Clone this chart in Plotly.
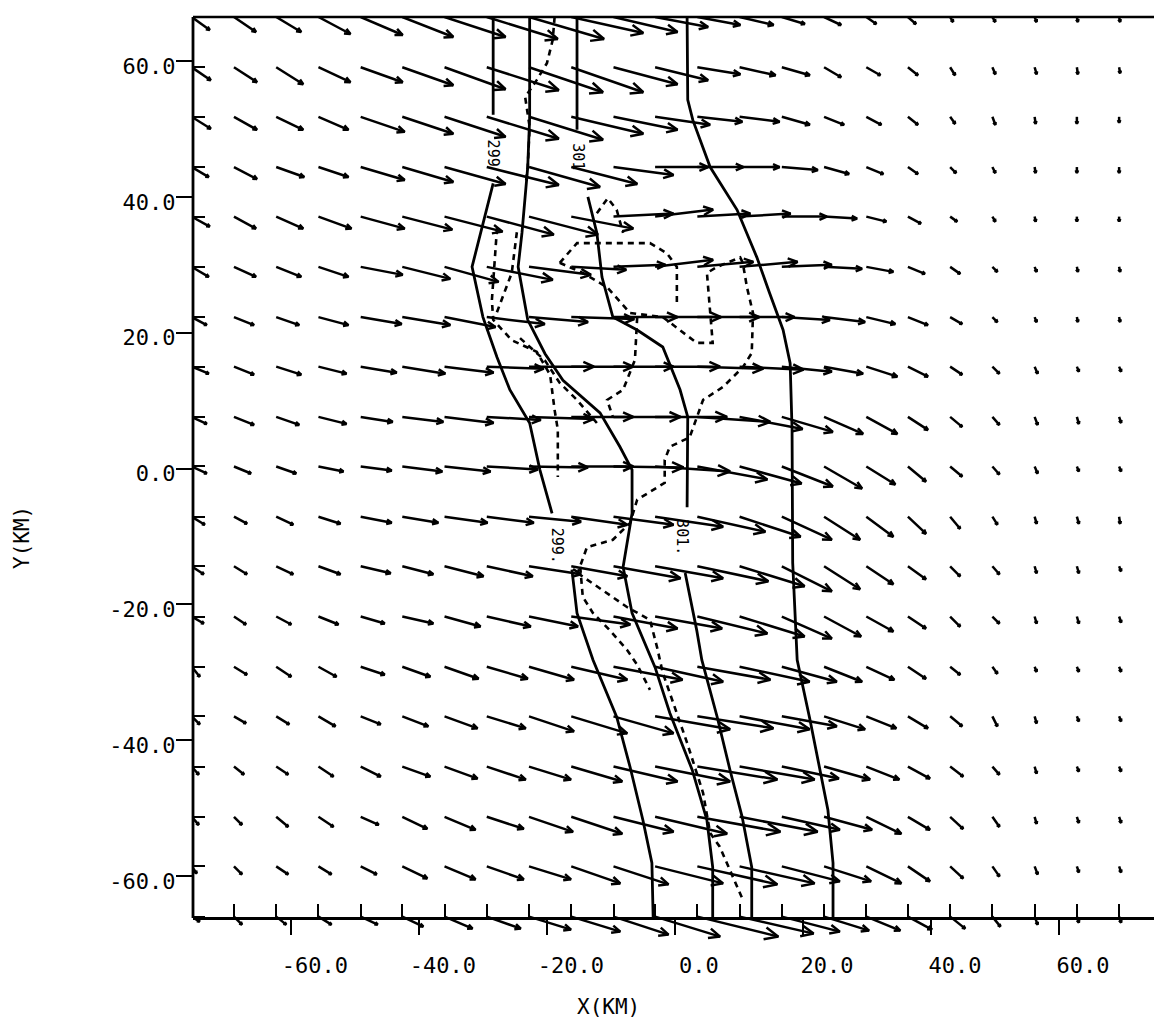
import math
import plotly.graph_objects as go

# ---------------- grid (km) ----------------
X_GRID = [-75.5, -68.9, -62.3, -55.7, -49.1, -42.6, -36.0, -29.4, -22.8, -16.2, -9.6, -3.1,
          3.5, 10.1, 16.7, 23.3, 29.9, 36.4, 43.0, 49.6, 56.2, 62.8, 69.4]
Y_GRID = [66.5, 59.1, 51.8, 44.4, 37.1, 29.7, 22.3, 15.0, 7.6, 0.3, -7.1, -14.4, -21.8,
          -29.2, -36.5, -43.9, -51.3, -58.6, -66.0]

# ---------------- wind components (m/s), rows north -> south ----------------
U = [
    [3.6, 4.4, 5.0, 6.4, 8.4, 10.2, 12.2, 14.2, 15.0, 14.4, 12.8, 10.6, 8.6, 6.8, 4.6, 3.4, 2.0, 1.6, 0.6, 0.6, 0.4, 0.2, 0.2],
    [3.8, 4.6, 5.4, 6.4, 8.4, 10.2, 12.2, 14.4, 14.8, 14.4, 12.8, 10.6, 8.6, 7.2, 5.6, 3.4, 2.8, 2.0, 1.0, 0.6, 0.4, 0.2, 0.2],
    [3.8, 4.6, 5.4, 6.0, 8.8, 10.2, 12.2, 14.4, 14.8, 14.4, 12.8, 11.0, 9.0, 8.0, 5.6, 4.0, 3.0, 2.0, 1.0, 0.6, 0.2, 0.0, 0.0],
    [3.4, 4.6, 5.6, 6.0, 8.8, 10.2, 12.2, 14.4, 14.2, 13.2, 12.0, 10.6, 9.2, 8.0, 7.2, 5.0, 3.4, 2.0, 1.2, 0.6, 0.2, 0.0, 0.0],
    [3.6, 4.4, 5.4, 6.6, 8.8, 10.0, 11.6, 13.4, 13.8, 12.4, 12.0, 11.6, 10.6, 10.2, 9.0, 6.6, 4.0, 2.6, 1.4, 0.6, 0.2, 0.0, 0.0],
    [3.4, 4.4, 5.0, 6.0, 8.4, 9.6, 10.8, 13.2, 12.4, 11.0, 10.4, 11.6, 11.2, 11.6, 10.0, 7.6, 5.4, 3.4, 2.0, 1.0, 0.4, 0.2, 0.2],
    [3.0, 4.0, 4.6, 6.0, 8.2, 9.6, 10.2, 11.6, 11.8, 12.6, 12.8, 13.2, 12.4, 11.0, 9.6, 8.2, 5.8, 4.0, 2.4, 1.0, 0.4, 0.2, 0.2],
    [3.4, 4.0, 5.0, 5.6, 7.2, 8.6, 9.8, 11.4, 13.0, 12.4, 12.0, 13.0, 13.2, 12.8, 10.0, 7.8, 6.2, 4.0, 2.4, 1.4, 0.6, 0.4, 0.4],
    [3.0, 4.0, 4.6, 5.6, 6.4, 8.2, 9.8, 10.8, 13.0, 12.4, 13.4, 14.4, 14.6, 12.6, 10.2, 7.8, 6.2, 4.0, 2.4, 1.4, 0.6, 0.4, 0.4],
    [3.0, 3.4, 4.0, 5.0, 6.2, 8.0, 9.2, 10.2, 11.8, 12.4, 14.0, 15.0, 14.0, 12.4, 10.2, 7.6, 5.8, 3.6, 2.4, 1.4, 0.6, 0.4, 0.4],
    [2.6, 2.6, 3.4, 4.4, 6.2, 7.2, 8.6, 9.4, 10.4, 11.2, 12.0, 13.6, 13.6, 12.2, 10.0, 7.2, 5.4, 3.6, 2.0, 1.0, 0.4, 0.4, 0.2],
    [2.4, 2.6, 3.4, 4.4, 6.0, 6.2, 7.8, 9.2, 10.4, 11.2, 13.4, 13.6, 14.2, 13.0, 10.0, 7.2, 5.4, 3.6, 2.0, 1.4, 0.4, 0.4, 0.4],
    [2.4, 2.4, 3.0, 4.0, 4.8, 6.2, 7.2, 8.8, 9.8, 11.8, 12.8, 13.4, 14.0, 13.0, 10.0, 7.4, 5.4, 3.6, 2.0, 1.4, 0.4, 0.4, 0.4],
    [1.6, 2.6, 3.0, 3.6, 4.8, 5.6, 6.8, 8.2, 9.0, 11.2, 13.8, 13.6, 14.6, 14.0, 11.0, 7.6, 5.6, 3.6, 2.0, 1.0, 0.4, 0.4, 0.4],
    [1.6, 2.4, 2.6, 3.4, 4.0, 5.2, 6.6, 7.8, 9.0, 11.2, 12.0, 15.0, 15.2, 14.0, 11.0, 8.2, 6.0, 4.0, 2.4, 1.0, 0.4, 0.4, 0.4],
    [1.4, 2.0, 2.4, 3.0, 4.0, 5.6, 6.6, 7.8, 8.4, 10.2, 12.8, 15.0, 16.0, 15.0, 11.4, 9.2, 6.6, 4.4, 2.6, 1.4, 0.4, 0.4, 0.4],
    [1.4, 1.6, 2.4, 3.0, 3.6, 5.0, 6.2, 7.4, 8.8, 10.2, 12.0, 14.4, 16.6, 15.6, 11.6, 9.6, 7.0, 4.4, 2.6, 1.4, 0.4, 0.4, 0.4],
    [1.0, 1.6, 2.4, 2.6, 3.2, 5.0, 6.2, 7.4, 8.4, 9.8, 11.0, 13.6, 16.0, 15.0, 11.6, 9.4, 7.0, 4.4, 2.6, 1.4, 0.6, 0.4, 0.4],
    [1.6, 1.6, 2.0, 2.6, 3.4, 4.2, 5.6, 6.8, 8.4, 9.8, 11.0, 13.0, 16.2, 14.8, 11.6, 9.0, 6.8, 4.8, 3.0, 1.6, 0.6, 0.4, 0.4],
]
V = [
    [-2.6, -3.0, -3.0, -3.4, -3.6, -4.0, -4.0, -4.4, -4.4, -3.2, -3.0, -2.0, -1.6, -1.6, -1.4, -1.6, -1.4, -1.4, -1.0, -1.0, -1.0, -1.0, -1.0],
    [-2.6, -3.0, -3.4, -3.0, -3.0, -3.6, -4.4, -4.6, -5.0, -5.0, -3.4, -2.6, -1.4, -1.6, -1.6, -2.0, -1.6, -1.6, -1.6, -1.4, -1.4, -1.4, -1.2],
    [-2.4, -2.6, -2.6, -2.6, -3.0, -3.4, -4.0, -4.4, -4.6, -3.4, -2.6, -1.6, -1.0, -1.0, -1.6, -1.6, -1.6, -1.6, -1.4, -1.6, -1.4, -1.4, -1.2],
    [-2.0, -2.4, -2.0, -2.0, -2.6, -3.0, -3.4, -3.6, -4.0, -3.4, -1.6, 0.0, 0.0, 0.0, -0.6, -1.4, -1.4, -1.4, -1.2, -1.2, -1.2, -1.2, -1.2],
    [-2.0, -2.4, -2.4, -2.4, -2.4, -2.6, -3.0, -3.6, -3.6, -2.4, 0.6, 1.4, 0.6, 0.6, 0.0, -0.4, -1.0, -1.4, -1.0, -1.0, -1.0, -1.0, -1.0],
    [-2.0, -2.0, -2.0, -2.0, -1.6, -2.4, -3.0, -2.6, -1.6, -0.6, 0.4, 1.4, 1.0, 1.0, 0.4, -0.4, -1.0, -1.4, -1.4, -1.0, -1.0, -1.0, -1.0],
    [-1.6, -1.6, -1.6, -1.6, -1.4, -1.6, -2.0, -1.4, -1.0, -0.4, 0.0, 0.0, 0.0, 0.0, -0.6, -1.0, -1.4, -1.6, -1.4, -1.0, -1.0, -1.0, -1.0],
    [-1.4, -1.6, -1.6, -1.4, -1.2, -1.4, -1.2, -0.4, 0.0, 0.0, 0.0, 0.0, -0.4, -0.6, -1.0, -1.4, -2.0, -2.0, -1.6, -1.4, -1.4, -1.0, -1.0],
    [-1.4, -1.6, -1.6, -1.4, -1.0, -1.0, -1.2, -0.6, -0.4, 0.0, 0.0, 0.0, -1.0, -2.4, -3.0, -3.4, -3.4, -2.6, -2.0, -1.6, -1.6, -1.4, -1.2],
    [-1.4, -1.4, -1.4, -1.0, -0.8, -1.0, -1.0, -0.6, -0.2, 0.0, -0.2, -1.0, -2.6, -3.4, -4.0, -4.4, -3.6, -3.0, -2.0, -1.6, -1.4, -1.0, -1.0],
    [-1.6, -1.4, -1.6, -1.4, -1.2, -1.2, -1.2, -1.2, -1.0, -1.6, -1.6, -2.0, -3.0, -4.0, -4.6, -4.6, -4.0, -3.4, -2.4, -1.6, -1.4, -1.4, -1.4],
    [-1.6, -1.6, -1.6, -1.6, -1.4, -1.6, -2.0, -2.0, -1.6, -2.0, -2.4, -2.4, -3.0, -4.0, -5.0, -4.6, -3.6, -2.6, -2.0, -1.6, -1.4, -1.4, -1.0],
    [-1.4, -1.6, -1.6, -1.6, -1.4, -1.4, -2.0, -2.0, -2.0, -1.6, -2.4, -2.4, -3.4, -4.0, -4.4, -4.0, -3.0, -2.4, -2.0, -1.4, -1.4, -1.4, -1.2],
    [-2.0, -1.6, -2.0, -2.0, -1.6, -2.0, -2.4, -2.4, -2.6, -2.6, -2.6, -3.0, -2.6, -3.0, -3.0, -3.0, -2.6, -2.4, -1.6, -1.4, -1.0, -1.0, -1.0],
    [-1.6, -1.4, -1.6, -2.0, -1.6, -2.0, -2.4, -2.4, -3.0, -3.4, -3.4, -2.6, -2.4, -2.6, -2.0, -2.6, -2.4, -2.4, -2.0, -2.0, -1.4, -1.0, -1.0],
    [-1.6, -1.6, -1.6, -2.0, -2.0, -2.0, -2.4, -2.6, -2.6, -3.0, -3.0, -3.0, -2.6, -2.6, -2.4, -2.6, -2.6, -2.4, -2.0, -1.6, -1.4, -1.0, -1.0],
    [-1.6, -1.6, -2.0, -2.0, -1.6, -2.4, -2.6, -2.4, -3.0, -3.4, -3.0, -3.4, -3.0, -3.0, -2.6, -2.6, -3.4, -2.6, -2.4, -2.0, -1.4, -1.2, -1.2],
    [-1.4, -1.6, -1.6, -1.6, -1.6, -2.4, -2.6, -2.6, -2.6, -3.4, -3.6, -3.4, -3.6, -3.4, -3.0, -3.0, -3.4, -3.0, -2.4, -2.0, -1.6, -1.2, -1.2],
    [-1.0, -1.6, -1.6, -1.6, -1.6, -2.0, -2.4, -2.4, -2.6, -3.0, -3.6, -4.0, -4.0, -3.4, -3.0, -2.8, -2.8, -2.6, -2.4, -2.0, -1.6, -1.2, -1.2],
]

# ---------------- isentrope / contour polylines (km) ----------------
# solid contours
A1_X = [-28.4, -28.4]
A1_Y = [66.5, 52.1]
A2_X = [-28.4, -31.7, -30.0, -27.8, -25.8, -22.7, -21.1, -19.2]
A2_Y = [42.0, 29.7, 22.3, 16.4, 11.6, 6.7, -0.2, -6.6]
A3_X = [-16.1, -15.3, -12.8, -9.1, -7.0, -5.0, -3.6, -3.4]
A3_Y = [-14.9, -21.3, -28.2, -36.6, -44.0, -51.8, -58.1, -66.2]
B_X = [-22.7, -22.7, -23.0, -23.9, -24.5, -23.0, -20.3, -17.5, -11.7, -8.6, -6.7, -6.7, -8.1,
       -6.7, -3.1, -0.8, 2.7, 5.0, 5.9, 5.9]
B_Y = [66.5, 51.7, 44.4, 34.7, 29.7, 21.9, 16.9, 13.0, 8.2, 3.2, -0.2, -6.6, -14.5,
       -21.3, -29.3, -36.0, -44.4, -51.8, -58.7, -66.2]
C1_X = [-15.3, -15.3]
C1_Y = [66.5, 49.9]
C2_X = [-13.6, -12.2, -11.4, -9.7, -5.9, -1.9, 0.8, 2.0, 1.9]
C2_Y = [40.0, 34.7, 28.2, 22.3, 20.4, 17.9, 11.6, 7.6, -5.7]
C3_X = [1.6, 3.4, 4.2, 6.6, 8.6, 10.5, 12.0, 12.0]
C3_Y = [-15.4, -23.8, -28.2, -36.6, -44.4, -51.3, -58.7, -66.2]
D_X = [1.9, 2.0, 2.8, 5.5, 9.7, 12.8, 14.8, 16.9, 18.0, 18.3, 18.4, 19.1, 21.1, 23.9, 24.7, 24.7]
D_Y = [66.5, 54.3, 51.3, 44.4, 38.1, 31.1, 25.8, 20.4, 15.5, 5.7, -13.9, -28.2, -37.0, -50.3, -58.1, -66.2]

# dashed contours
E_X = [-18.8, -19.1, -20.0, -21.6, -23.4, -23.0, -22.7, -23.0, -23.3]
E_Y = [66.5, 63.1, 59.7, 57.2, 54.7, 51.7, 50.3, 44.4, 42.0]
H1_X = [-27.8, -28.6, -28.4, -25.5, -21.6, -19.5, -18.8, -18.3, -18.3]
H1_Y = [35.4, 24.8, 21.9, 18.9, 17.2, 13.8, 8.6, 5.7, -1.25]
H2_X = [-24.7, -25.5, -28.1]
H2_Y = [34.8, 28.8, 22.3]
H3_X = [-24.2, -20.3, -18.0, -15.3, -12.2]
H3_Y = [19.2, 15.9, 12.6, 10.1, 6.7]
G1_X = [-12.2, -10.5, -9.1, -8.1]
G1_Y = [37.6, 39.8, 38.1, 34.7]
G2_X = [-18.0, -15.3, -3.9, -1.25, 0.3, 0.3]
G2_Y = [30.3, 33.2, 33.2, 31.7, 29.7, 23.8]
G3_X = [-18.0, -14.4, -10.6, -7.0, -1.9, 1.25, 3.4, 5.9, 5.5, 5.0, 6.6, 10.2, 10.6, 11.25, 12.2,
        12.0, 10.6, 7.5, 4.4, 2.3, -0.8, -1.6, -1.6, -5.9, -7.0, -9.7, -13.75, -14.8, -15.2]
G3_Y = [30.3, 28.8, 26.7, 22.9, 22.3, 20.0, 18.5, 18.5, 22.9, 28.8, 29.7, 31.1, 30.3, 26.7, 22.9,
        17.0, 14.9, 12.0, 10.1, 4.6, 3.2, 1.25, -2.1, -4.6, -8.0, -10.5, -11.6, -14.5, -15.4]
G5_X = [-5.9, -6.25, -8.1, -10.6, -9.7]
G5_Y = [22.3, 16.0, 11.6, 10.1, 7.6]
L1_X = [-14.8, -14.4, -12.8, -10.2, -7.5, -5.9, -3.9]
L1_Y = [-14.5, -18.9, -21.3, -23.8, -26.7, -28.9, -32.6]
L2_X = [-15.2, -7.5, -3.9, -2.8, -1.9, -0.3, 1.9, 4.4, 5.5, 7.0, 10.6]
L2_Y = [-15.4, -20.4, -22.3, -26.3, -30.1, -34.5, -40.4, -47.8, -53.7, -55.7, -63.5]

SOLID_LINES = [(A1_X, A1_Y), (A2_X, A2_Y), (A3_X, A3_Y), (B_X, B_Y), (C1_X, C1_Y),
               (C2_X, C2_Y), (C3_X, C3_Y), (D_X, D_Y)]
DASHED_LINES = [(E_X, E_Y), (H1_X, H1_Y), (H2_X, H2_Y), (H3_X, H3_Y), (G1_X, G1_Y),
                (G2_X, G2_Y), (G3_X, G3_Y), (G5_X, G5_Y), (L1_X, L1_Y), (L2_X, L2_Y)]

LABEL_TEXT = ["299", "301", "299.", "301."]
LABEL_X = [-28.4, -15.2, -18.4, 1.1]
LABEL_Y = [46.5, 45.9, -11.4, -10.1]

X_TICKS = [-60, -40, -20, 0, 20, 40, 60]
X_TICK_TEXT = ["-60.0", "-40.0", "-20.0", "0.0", "20.0", "40.0", "60.0"]
Y_TICKS = [60, 40, 20, 0, -20, -40, -60]
Y_TICK_TEXT = ["60.0", "40.0", "20.0", "0.0", "-20.0", "-40.0", "-60.0"]

# ---------------- layout geometry ----------------
W, H = 1154, 1020
M_L, M_R, M_T, M_B = 193, 0, 17, 75
X_RANGE = [-75.3, 74.85]
Y_RANGE = [-70.18, 66.5]
Y_AXIS_LEVEL = -66.2
PLOT_W = W - M_L - M_R
PLOT_H = H - M_T - M_B
PX_PER_KM_X = PLOT_W / (X_RANGE[1] - X_RANGE[0])
PX_PER_KM_Y = PLOT_H / (Y_RANGE[1] - Y_RANGE[0])
PX_PER_MS = 5.0
AXIS_POS = (Y_AXIS_LEVEL - Y_RANGE[0]) / (Y_RANGE[1] - Y_RANGE[0])

FONT = "DejaVu Sans Mono"
INK = "black"

# ---------------- arrows ----------------
ax, ay = [], []
ang = math.radians(24)
for j, y0 in enumerate(Y_GRID):
    for i, x0 in enumerate(X_GRID):
        dxp = U[j][i] * PX_PER_MS
        dyp = V[j][i] * PX_PER_MS
        L = math.hypot(dxp, dyp)
        x1 = x0 + dxp / PX_PER_KM_X
        y1 = y0 + dyp / PX_PER_KM_Y
        ax += [x0, x1, None]
        ay += [y0, y1, None]
        if L > 0.5:
            hl = min(max(0.18 * L, 3.0), 15.0)
            ux, uy = dxp / L, dyp / L
            pts = []
            for s in (1, -1):
                c, sn = math.cos(ang * s), math.sin(ang * s)
                bx = -(ux * c - uy * sn)
                by = -(ux * sn + uy * c)
                pts.append((x1 + hl * bx / PX_PER_KM_X, y1 + hl * by / PX_PER_KM_Y))
            ax += [pts[0][0], x1, pts[1][0], None]
            ay += [pts[0][1], y1, pts[1][1], None]

fig = go.Figure()
fig.add_trace(go.Scatter(x=ax, y=ay, mode="lines", line=dict(color=INK, width=2.5),
                         hoverinfo="skip"))

for xs, ys in SOLID_LINES:
    fig.add_trace(go.Scatter(x=xs, y=ys, mode="lines", line=dict(color=INK, width=2.8),
                             hoverinfo="skip"))
for xs, ys in DASHED_LINES:
    fig.add_trace(go.Scatter(x=xs, y=ys, mode="lines",
                             line=dict(color=INK, width=2.6, dash="6px,5px"),
                             hoverinfo="skip"))

annotations = []
for t, lx, ly in zip(LABEL_TEXT, LABEL_X, LABEL_Y):
    annotations.append(dict(x=lx, y=ly, xref="x", yref="y", text=t, showarrow=False,
                            textangle=90, font=dict(family=FONT, size=15, color=INK)))
annotations.append(dict(x=(608 - M_L) / PLOT_W, y=-(1007 - (H - M_B)) / PLOT_H,
                        xref="paper", yref="paper", text="X(KM)", showarrow=False,
                        xanchor="center", yanchor="middle",
                        font=dict(family=FONT, size=21, color=INK)))
annotations.append(dict(x=-(M_L - 22) / PLOT_W, y=((H - M_B) - 538) / PLOT_H,
                        xref="paper", yref="paper", text="Y(KM)", showarrow=False,
                        textangle=-90, xanchor="center", yanchor="middle",
                        font=dict(family=FONT, size=21, color=INK)))

shapes = [
    dict(type="line", xref="paper", yref="paper", x0=0, x1=0, y0=AXIS_POS, y1=1,
         line=dict(color=INK, width=2.8)),
    dict(type="line", xref="paper", yref="paper", x0=0, x1=1, y0=1, y1=1,
         line=dict(color=INK, width=2.6)),
]

fig.update_layout(
    width=W, height=H,
    margin=dict(l=M_L, r=M_R, t=M_T, b=M_B, pad=0),
    plot_bgcolor="white", paper_bgcolor="white",
    showlegend=False,
    annotations=annotations,
    shapes=shapes,
    xaxis=dict(range=X_RANGE, anchor="free", position=AXIS_POS,
               showline=True, linecolor=INK, linewidth=2.8,
               showgrid=False, zeroline=False,
               ticks="outside", ticklen=15, tickwidth=2.2, tickcolor=INK,
               tickmode="array", tickvals=X_TICKS, ticktext=X_TICK_TEXT,
               tickfont=dict(family=FONT, size=22, color=INK),
               ticklabelshift=24, ticklabelstandoff=12,
               minor=dict(ticks="inside", ticklen=13, tickwidth=2.2, tickcolor=INK,
                          tickmode="array", tickvals=X_GRID, showgrid=False)),
    yaxis=dict(range=Y_RANGE, showline=False, showgrid=False, zeroline=False,
               ticks="outside", ticklen=16, tickwidth=2.2, tickcolor=INK,
               tickmode="array", tickvals=Y_TICKS, ticktext=Y_TICK_TEXT,
               tickfont=dict(family=FONT, size=22, color=INK),
               ticklabelshift=5, ticklabelstandoff=-4,
               minor=dict(ticks="inside", ticklen=12, tickwidth=2.2, tickcolor=INK,
                          tickmode="array", tickvals=Y_GRID, showgrid=False)),
)

fig.write_html("out.html")
